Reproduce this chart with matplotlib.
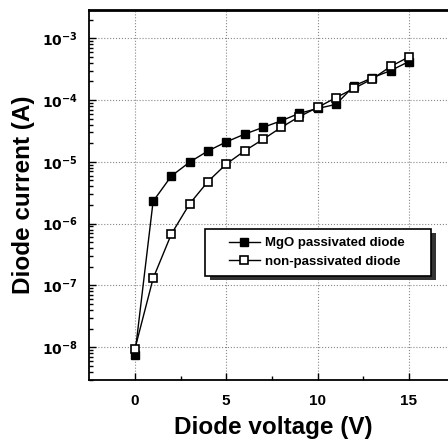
import numpy as np
import matplotlib.pyplot as plt
from matplotlib.patches import Rectangle
from matplotlib.ticker import LogLocator, FixedLocator, NullFormatter

voltage = [0, 1, 2, 3, 4, 5, 6, 7, 8, 9, 10, 11, 12, 13, 14, 15]
mgo_current = [7.5e-9, 2.3e-6, 5.9e-6, 9.9e-6, 1.5e-5, 2.1e-5, 2.8e-5, 3.6e-5,
               4.6e-5, 6.1e-5, 7.3e-5, 8.5e-5, 1.7e-4, 2.3e-4, 3.0e-4, 4.2e-4]
nonpass_current = [9.3e-9, 1.3e-7, 6.8e-7, 2.1e-6, 4.8e-6, 9.2e-6, 1.5e-5, 2.3e-5,
                   3.6e-5, 5.4e-5, 7.6e-5, 1.09e-4, 1.55e-4, 2.2e-4, 3.5e-4, 5.0e-4]
xticks = [0, 5, 10, 15]
ytick_exp = [-8, -7, -6, -5, -4, -3]

plt.rcParams['font.family'] = ['Liberation Sans', 'DejaVu Sans']

fig = plt.figure(figsize=(4.48, 4.46), dpi=100)
ax = fig.add_axes([0.199, 0.148, 0.82, 0.83])

ax.semilogy(voltage, mgo_current, color='black', lw=1.0, marker='s', ms=5.5,
            mfc='black', mec='black', label='MgO passivated diode')
ax.semilogy(voltage, nonpass_current, color='black', lw=1.0, marker='s', ms=5.5,
            mfc='white', mec='black', mew=1.2, label='non-passivated diode')

ax.set_xlim(-2.5, 17.6)
ax.set_ylim(10 ** -8.53, 10 ** -2.54)

ax.xaxis.set_major_locator(FixedLocator(xticks))
ax.xaxis.set_minor_locator(FixedLocator([2.5, 7.5, 12.5]))
ax.set_xticklabels([str(t) for t in xticks], fontweight='bold', fontsize=11)
ax.yaxis.set_major_locator(FixedLocator([10.0 ** e for e in ytick_exp]))
ax.set_yticklabels(['$\\mathbf{10^{%d}}$' % e for e in ytick_exp], fontsize=10)
ax.yaxis.set_minor_locator(LogLocator(base=10, subs=np.arange(2, 10)))
ax.yaxis.set_minor_formatter(NullFormatter())

ax.tick_params(which='both', direction='in', width=1.0)
ax.tick_params(which='major', length=5, pad=8)
ax.tick_params(which='minor', length=3)
ax.tick_params(axis='x', which='major', pad=10)

ax.grid(True, which='major', ls=':', color='#888888', lw=0.8)

for s in ['left', 'bottom']:
    ax.spines[s].set_linewidth(1.3)
ax.spines['top'].set_linewidth(2.0)
ax.spines['right'].set_visible(False)

ax.set_xlabel('Diode voltage (V)', fontsize=17.5, fontweight='bold', labelpad=6)
ax.set_ylabel('Diode current (A)', fontsize=17.5, fontweight='bold', labelpad=5)

# legend box drawn by hand: wider horizontal padding than matplotlib's frame
bx, by, bw, bh = 0.316, 0.281, 0.615, 0.127
ax.add_patch(Rectangle((bx + 0.012, by - 0.011), bw, bh, transform=ax.transAxes,
                       facecolor='#333333', edgecolor='none', zorder=4))
ax.add_patch(Rectangle((bx, by), bw, bh, transform=ax.transAxes,
                       facecolor='white', edgecolor='black', lw=1.2, zorder=5))
leg = ax.legend(loc='center', bbox_to_anchor=(0.62, 0.3445),
                prop={'weight': 'bold', 'size': 9.5}, frameon=False,
                handlelength=2.3, borderpad=0.3, labelspacing=0.45,
                handletextpad=0.4)
leg.set_zorder(6)

fig.savefig('out.png', dpi=100)
